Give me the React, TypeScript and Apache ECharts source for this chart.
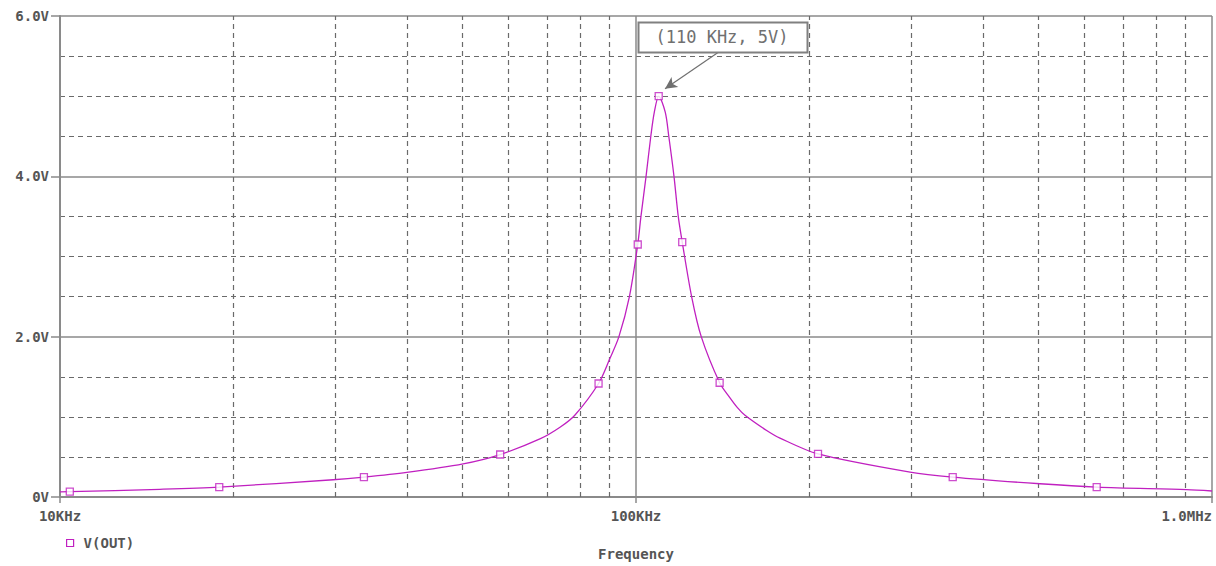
import React, { useEffect, useRef } from "react";
import * as echarts from "echarts";

// Frequency (Hz) and V(OUT) (V)
const traceFreq = [
  10000, 10400, 14900, 18900, 29800, 33700, 40000, 50100, 58100, 68100,
  73800, 78300, 86100, 90000, 93400, 97400, 100700, 102000, 104100,
  106100, 107600, 109500, 112400, 114000, 116400, 118400, 120300, 124900,
  129800, 139700, 145500, 150000, 154600, 168600, 177800, 207000, 299000,
  354700, 502700, 630700, 903600, 1000000,
];
const traceVolt = [
  0.065, 0.066, 0.096, 0.124, 0.215, 0.248, 0.307, 0.414, 0.53, 0.724,
  0.87, 1.02, 1.416, 1.72, 2.0, 2.5, 3.15, 3.5, 4.0,
  4.5, 4.8, 5.0, 4.8, 4.5, 4.0, 3.5, 3.18, 2.5,
  2.0, 1.425, 1.24, 1.115, 1.02, 0.83, 0.735, 0.538, 0.311,
  0.248, 0.165, 0.124, 0.091, 0.075,
];

// marker (symbol) positions along the trace
const markerFreq = [10400, 18900, 33700, 58100, 86100, 100700, 109500, 120300, 139700, 207000, 354700, 630700];
const markerVolt = [0.066, 0.124, 0.248, 0.53, 1.416, 3.15, 5.0, 3.18, 1.425, 0.538, 0.248, 0.124];

// axis ticks
const xMajorTicks = [10000, 100000, 1000000];
const xMajorLabels = ["10KHz", "100KHz", "1.0MHz"];
const xMinorTicks = [
  20000, 30000, 40000, 50000, 60000, 70000, 80000, 90000,
  200000, 300000, 400000, 500000, 600000, 700000, 800000, 900000,
];
const yTickLabels: Record<number, string> = { 0: "0V", 2: "2.0V", 4: "4.0V", 6: "6.0V" };

// annotation
const annotationText = "(110 KHz, 5V)";
const arrowFrom: [number, number] = [139000, 5.549];
const arrowTo: [number, number] = [112300, 5.093];

const seriesName = "V(OUT)";
const traceColor = "#c020c0";
const gridSolid = "#8a8a8a";
const gridDash = "#6a6a6a";
const labelColor = "#555555";
const monoFont = "'DejaVu Sans Mono', 'Liberation Mono', monospace";

export default function App() {
  const ref = useRef<HTMLDivElement>(null);

  useEffect(() => {
    if (!ref.current) return;
    const chart = echarts.init(ref.current, undefined, { renderer: "svg" });

    const lineData = traceFreq.map((f, i) => [f, traceVolt[i]]);
    const markerData = markerFreq.map((f, i) => [f, markerVolt[i]]);

    chart.setOption({
      animation: false,
      backgroundColor: "#ffffff",
      grid: { left: 60, right: 4, top: 16, bottom: 66, containLabel: false },
      legend: {
        left: 61,
        top: 531,
        itemWidth: 7,
        itemHeight: 7,
        itemGap: 10,
        data: [
          {
            name: seriesName,
            icon: "rect",
            itemStyle: { color: "#ffffff", borderColor: traceColor, borderWidth: 1.2 },
          },
        ],
        textStyle: {
          fontFamily: monoFont,
          fontWeight: "bold",
          fontSize: 14,
          color: labelColor,
          padding: [0, 0, 0, 5],
        },
      },
      xAxis: {
        type: "log",
        logBase: 10,
        min: 10000,
        max: 1000000,
        name: "Frequency",
        nameLocation: "middle",
        nameGap: 50,
        nameTextStyle: {
          fontFamily: monoFont,
          fontWeight: "bold",
          fontSize: 14,
          color: labelColor,
        },
        axisLine: { show: true, lineStyle: { color: gridSolid, width: 2 } },
        axisTick: { show: true, length: 6, lineStyle: { color: gridSolid, width: 1.5 } },
        axisLabel: {
          fontFamily: monoFont,
          fontWeight: "bold",
          fontSize: 14,
          color: labelColor,
          margin: 12,
          alignMaxLabel: "right",
          formatter: (v: number) => {
            const idx = xMajorTicks.findIndex((t) => Math.abs(t - v) / t < 1e-6);
            return idx >= 0 ? xMajorLabels[idx] : "";
          },
        },
        splitLine: { show: true, lineStyle: { color: gridSolid, width: 1.5, type: "solid" } },
        minorTick: { show: false },
        minorSplitLine: { show: false },
      },
      yAxis: {
        type: "value",
        min: 0,
        max: 6,
        interval: 2,
        axisLine: { show: true, lineStyle: { color: gridSolid, width: 2 } },
        axisTick: { show: true, length: 9, lineStyle: { color: gridSolid, width: 1.5 } },
        axisLabel: {
          fontFamily: monoFont,
          fontWeight: "bold",
          fontSize: 14,
          color: labelColor,
          margin: 11,
          formatter: (v: number) => yTickLabels[v] ?? "",
        },
        splitLine: { show: true, lineStyle: { color: gridSolid, width: 1.5 } },
        minorTick: { show: false, splitNumber: 4 },
        minorSplitLine: {
          show: true,
          lineStyle: { color: gridDash, width: 1.2, type: [5, 4] },
        },
      },
      series: [
        {
          name: seriesName,
          type: "line",
          data: lineData,
          showSymbol: false,
          smooth: 0.3,
          lineStyle: { color: traceColor, width: 1.3 },
          itemStyle: { color: traceColor },
          z: 5,
          markLine: {
            silent: true,
            animation: false,
            symbol: ["none", "none"],
            label: { show: false },
            lineStyle: { color: gridDash, width: 1.2, type: [5, 4] },
            data: xMinorTicks.map((f) => ({ xAxis: f })),
            z: 1,
          },
        },
        {
          name: seriesName + " markers",
          type: "scatter",
          data: markerData,
          symbol: "rect",
          symbolSize: 7,
          itemStyle: { color: "#ffffff", borderColor: traceColor, borderWidth: 1.3 },
          z: 6,
          markLine: {
            silent: true,
            animation: false,
            symbol: ["none", "arrow"],
            symbolSize: [9, 12],
            label: { show: false },
            lineStyle: { color: "#707070", width: 1.2, type: "solid" },
            data: [[{ coord: arrowFrom }, { coord: arrowTo }]],
          },
        },
      ],
      graphic: [
        {
          type: "rect",
          shape: { x: 638.5, y: 22.5, width: 169, height: 30 },
          style: { fill: "#ffffff", stroke: "#808080", lineWidth: 2 },
          z: 10,
        },
        {
          type: "text",
          x: 722,
          y: 37,
          style: {
            text: annotationText,
            fontFamily: monoFont,
            fontSize: 17,
            fill: "#707070",
            align: "center",
            verticalAlign: "middle",
          },
          z: 11,
        },
      ],
    });

    return () => chart.dispose();
  }, []);

  return (
    <div
      ref={ref}
      style={{ position: "fixed", left: 0, top: 0, width: 1216, height: 566, background: "#fff" }}
    />
  );
}
